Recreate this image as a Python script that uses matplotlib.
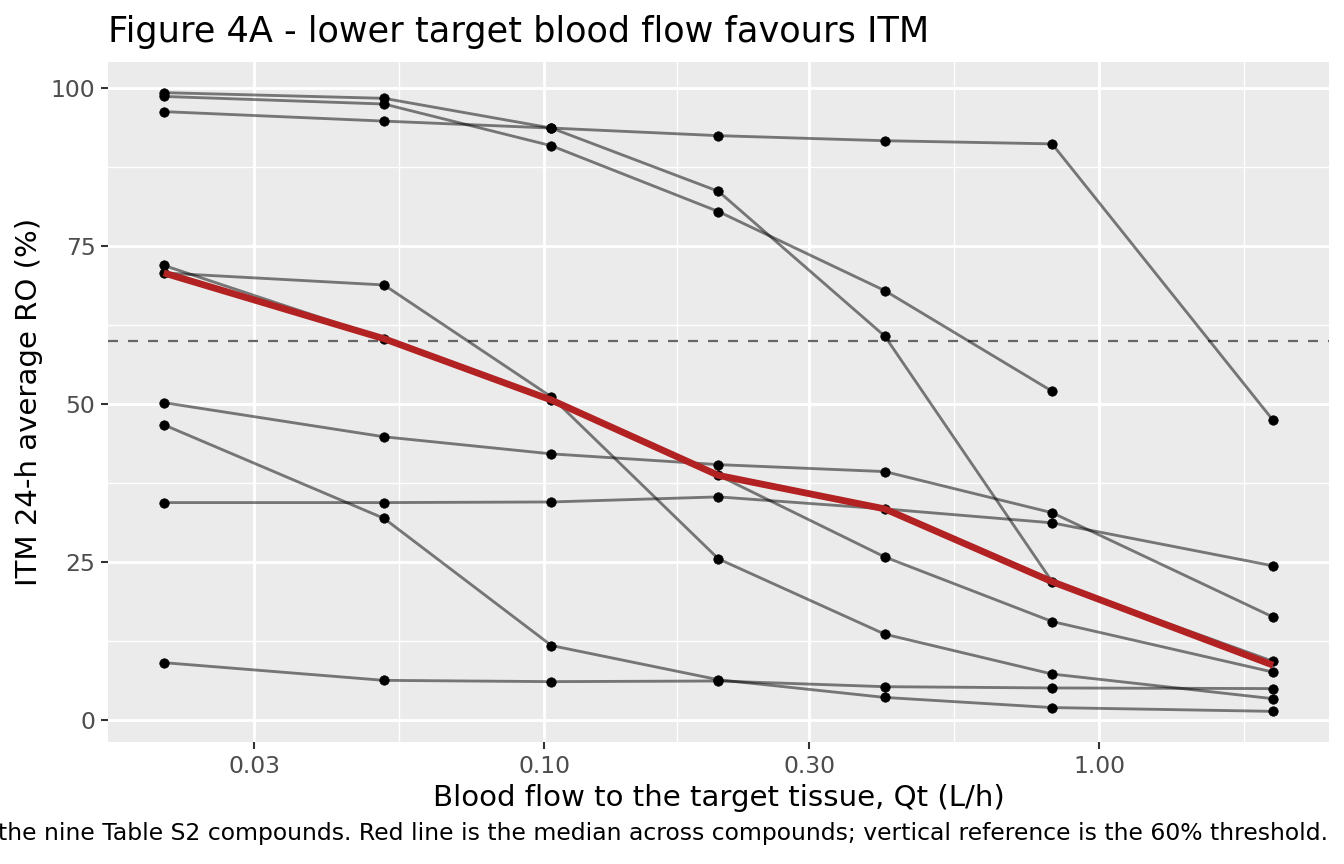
import numpy as np
import matplotlib
matplotlib.use("Agg")
import matplotlib.pyplot as plt
from matplotlib.ticker import FixedLocator, NullFormatter

# ---------------- data ----------------
qt = [0.0206, 0.0514, 0.103, 0.206, 0.411, 0.823, 2.06]   # L/h

compound_1 = [99.2, 98.3, 93.6, 83.6, 60.7, 21.9, 9.3]
compound_2 = [98.6, 97.4, 90.8, 80.4, 67.9, 52.0, np.nan]
compound_3 = [96.2, 94.7, 93.6, 92.4, 91.6, 91.1, 47.4]
compound_4 = [71.9, 60.3, 50.6, 38.7, 25.8, 15.6, 7.6]
compound_5 = [70.7, 68.8, 51.1, 25.5, 13.6, 7.3, 3.4]
compound_6 = [50.2, 44.8, 42.1, 40.4, 39.3, 32.8, 16.3]
compound_7 = [34.4, 34.4, 34.5, 35.3, 33.4, 31.2, 24.4]
compound_8 = [46.7, 31.9, 11.8, 6.4, 3.6, 2.0, 1.4]
compound_9 = [9.1, 6.3, 6.1, 6.2, 5.3, 5.1, 5.0]

median_ro = [70.7, 60.3, 50.6, 38.7, 33.4, 21.9, 8.7]
threshold = 60

x_breaks = [0.03, 0.1, 0.3, 1.0]
x_labels = ["0.03", "0.10", "0.30", "1.00"]
y_breaks = [0, 25, 50, 75, 100]
y_labels = ["0", "25", "50", "75", "100"]

title = "Figure 4A - lower target blood flow favours ITM"
xlab = "Blood flow to the target tissue, Qt (L/h)"
ylab = "ITM 24-h average RO (%)"
caption = ("the nine Table S2 compounds. Red line is the median across compounds; "
           "vertical reference is the 60% threshold.")

compounds = [compound_1, compound_2, compound_3, compound_4, compound_5,
             compound_6, compound_7, compound_8, compound_9]

# ---------------- figure ----------------
W, H = 1344, 864
fig = plt.figure(figsize=(W / 100, H / 100), dpi=100)
fig.patch.set_facecolor("white")

left, right, top, bottom = 108.3, 1328.6, 61.7, 742.3
ax = fig.add_axes([left / W, 1 - bottom / H, (right - left) / W, (bottom - top) / H])
ax.set_facecolor("#EBEBEB")
for s in ax.spines.values():
    s.set_visible(False)

ax.set_xscale("log")

# limits with ggplot-like 5% expansion (in log space for x)
lx = np.log10(qt)
span = lx.max() - lx.min()
ax.set_xlim(10 ** (lx.min() - 0.05 * span), 10 ** (lx.max() + 0.05 * span))
allv = np.concatenate([np.array(c, dtype=float) for c in compounds])
vmin, vmax = np.nanmin(allv), np.nanmax(allv)
ax.set_ylim(vmin - 0.05 * (vmax - vmin), vmax + 0.05 * (vmax - vmin))

# grid
lb = np.log10(x_breaks)
minor_x = [10 ** ((lb[i] + lb[i + 1]) / 2) for i in range(len(lb) - 1)]
minor_x.append(10 ** (lb[-1] + (lb[1] - lb[0]) / 2))
ax.xaxis.set_major_locator(FixedLocator(x_breaks))
ax.xaxis.set_minor_locator(FixedLocator(minor_x))
ax.xaxis.set_minor_formatter(NullFormatter())
ax.set_xticklabels(x_labels)
ax.yaxis.set_major_locator(FixedLocator(y_breaks))
ax.yaxis.set_minor_locator(FixedLocator([12.5, 37.5, 62.5, 87.5]))
ax.set_yticklabels(y_labels)

ax.grid(which="major", color="white", linewidth=2.05)
ax.grid(which="minor", color="white", linewidth=1.0)
ax.set_axisbelow(True)

ax.tick_params(which="major", length=5.3, width=1.5, color="#333333",
               labelsize=16.9, labelcolor="#4D4D4D", pad=4.0)
ax.tick_params(which="minor", length=0)

# threshold
ax.axhline(threshold, color="#666666", linewidth=1.6, linestyle=(0, (4.5, 4.5)), zorder=2)

# compound lines & points
for c in compounds:
    ax.plot(qt, c, color="black", alpha=0.5, linewidth=2.05,
            solid_capstyle="butt", zorder=3)
for c in compounds:
    ax.plot(qt, c, linestyle="none", marker="o", markersize=6.8,
            markerfacecolor="black", markeredgecolor="black", markeredgewidth=0.5,
            zorder=4)

# median line
ax.plot(qt, median_ro, color="#B22222", linewidth=4.9, solid_capstyle="butt",
        solid_joinstyle="round", zorder=5)

# texts
fig.text(left / W, 1 - 41.7 / H, title, ha="left", va="baseline",
         fontsize=25.3, color="black")
fig.text((left + right) / 2 / W, 1 - 806 / H, xlab, ha="center", va="baseline",
         fontsize=21.1, color="black")
fig.text(37 / W, 1 - (top + bottom) / 2 / H, ylab, ha="center", va="baseline",
         rotation=90, rotation_mode="anchor", fontsize=21.1, color="black")
fig.text(1328 / W, 1 - 840 / H, caption, ha="right", va="baseline",
         fontsize=16.9, color="black")

fig.savefig("out.png", dpi=100)
